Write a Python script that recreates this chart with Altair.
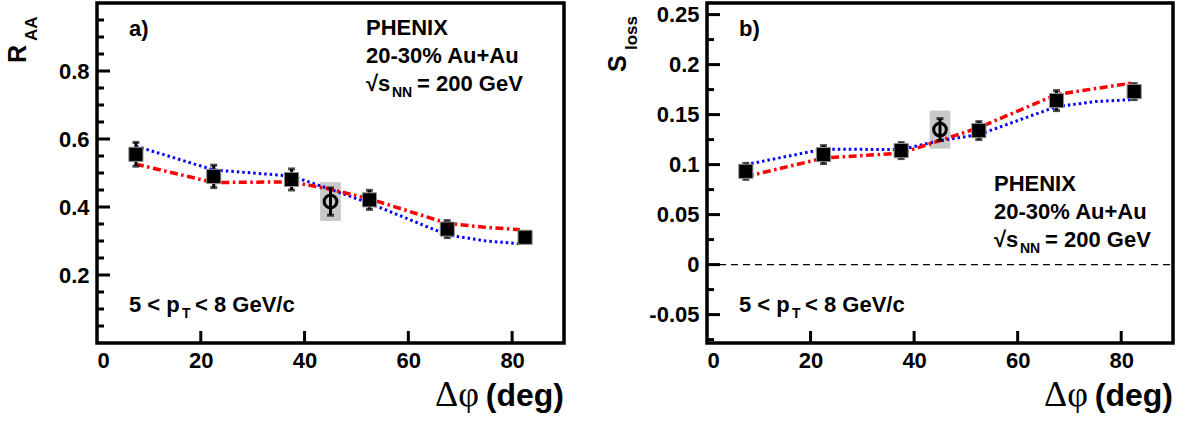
import altair as alt
import pandas as pd

SANS = "Liberation Sans"
SERIF = "Liberation Serif"

# ---------------- data ----------------
deg = [7.5, 22.5, 37.5, 52.5, 67.5, 82.5]
raa = [0.555, 0.490, 0.481, 0.421, 0.335, 0.311]
raa_err = [0.035, 0.033, 0.031, 0.028, 0.025, 0.010]
sloss = [0.0933, 0.110, 0.114, 0.134, 0.164, 0.173]
sloss_err = [0.008, 0.009, 0.008, 0.009, 0.010, 0.008]

phi_deg = [45.0]
phi_halfwidth = 2.0
raa_phi = [0.416]
raa_phi_err = [0.040]
raa_phi_sys = [0.057]
sloss_phi = [0.135]
sloss_phi_err = [0.011]
sloss_phi_sys = [0.019]

model_deg_a = [7.5, 22.5, 37.5, 45.0, 52.5, 67.5, 75.0, 81.5]
raa_blue = [0.579, 0.509, 0.491, 0.452, 0.411, 0.318, 0.300, 0.292]
raa_red = [0.526, 0.472, 0.474, 0.452, 0.424, 0.352, 0.340, 0.333]
model_deg_b = [7.5, 22.5, 37.5, 45.0, 52.5, 67.5, 75.0, 82.0]
sloss_blue = [0.100, 0.1155, 0.115, 0.124, 0.130, 0.158, 0.163, 0.165]
sloss_red = [0.088, 0.1065, 0.1115, 0.124, 0.137, 0.170, 0.176, 0.1815]

x_ticks = [20, 40, 60, 80]
raa_major = [0.2, 0.4, 0.6, 0.8]
raa_minor = [0.05, 0.1, 0.15, 0.25, 0.3, 0.35, 0.45, 0.5, 0.55, 0.65, 0.7, 0.75, 0.85, 0.9, 0.95]
sloss_major = [-0.05, 0, 0.05, 0.1, 0.15, 0.2, 0.25]
sloss_minor = [-0.075, -0.025, 0.025, 0.075, 0.125, 0.175, 0.225]

H = 340
XDOM = [0, 90]


def txt(x, y, s, size, weight="bold", font=SANS, angle=0, align="left"):
    return alt.Chart(pd.DataFrame({"t": [s]})).mark_text(
        align=align, baseline="alphabetic", font=font, fontSize=size,
        fontWeight=weight, angle=angle, color="black"
    ).encode(x=alt.value(x), y=alt.value(y), text="t:N")


def panel(W, vals, errs, pval, perr, psys, mdeg, blue, red, ydom, major, minor,
          label, ttl_main, ttl_sub, ttl_pos, info_pos, zero=False):
    xs = alt.Scale(domain=XDOM, nice=False, zero=False)
    ys = alt.Scale(domain=ydom, nice=False, zero=False)
    xax = alt.Axis(values=[0] + x_ticks, ticks=False, domain=False, grid=False, title=None,
                   labelFont=SANS, labelFontWeight="bold", labelFontSize=22,
                   labelColor="black", labelPadding=7, labelExpr="'' + datum.value")
    yax = alt.Axis(values=major, ticks=False, domain=False, grid=False, title=None,
                   labelFont=SANS, labelFontWeight="bold", labelFontSize=22,
                   labelColor="black", labelPadding=8, labelExpr="'' + datum.value")

    pts = pd.DataFrame({"x": deg, "y": vals,
                        "lo": [v - e for v, e in zip(vals, errs)],
                        "hi": [v + e for v, e in zip(vals, errs)]})
    ph = pd.DataFrame({"x": phi_deg, "y": pval,
                       "x0": [p - phi_halfwidth for p in phi_deg],
                       "x1": [p + phi_halfwidth for p in phi_deg],
                       "lo": [v - e for v, e in zip(pval, perr)],
                       "hi": [v + e for v, e in zip(pval, perr)],
                       "slo": [v - e for v, e in zip(pval, psys)],
                       "shi": [v + e for v, e in zip(pval, psys)]})
    mb = pd.DataFrame({"x": mdeg, "y": blue})
    mr = pd.DataFrame({"x": mdeg, "y": red})

    base_axes = alt.Chart(pts).mark_point(opacity=0).encode(
        x=alt.X("x:Q", scale=xs, axis=xax), y=alt.Y("y:Q", scale=ys, axis=yax))

    box = alt.Chart(ph).mark_rect(color="#c8c8c8").encode(
        x=alt.X("x0:Q", scale=xs), x2="x1:Q", y=alt.Y("slo:Q", scale=ys), y2="shi:Q")

    layers = [base_axes, box]
    if zero:
        layers.append(alt.Chart(pd.DataFrame({"z": [0.0]})).mark_rule(
            color="black", strokeDash=[7, 5], strokeWidth=1.3).encode(
            y=alt.Y("z:Q", scale=ys), x=alt.value(0), x2=alt.value(W)))

    blue_l = alt.Chart(mb).mark_line(color="#0000ff", strokeDash=[2.5, 3], strokeWidth=3,
                                     interpolate="linear").encode(
        x=alt.X("x:Q", scale=xs), y=alt.Y("y:Q", scale=ys))
    red_l = alt.Chart(mr).mark_line(color="#ff0000", strokeDash=[8, 3.5, 2.5, 3.5], strokeWidth=3.5,
                                    interpolate="linear").encode(
        x=alt.X("x:Q", scale=xs), y=alt.Y("y:Q", scale=ys))

    def errbar(df):
        r = alt.Chart(df).mark_rule(color="black", strokeWidth=3).encode(
            x=alt.X("x:Q", scale=xs), y=alt.Y("lo:Q", scale=ys), y2="hi:Q")
        c1 = alt.Chart(df).mark_tick(color="black", orient="horizontal", size=7, thickness=3).encode(
            x=alt.X("x:Q", scale=xs), y=alt.Y("lo:Q", scale=ys))
        c2 = alt.Chart(df).mark_tick(color="black", orient="horizontal", size=7, thickness=3).encode(
            x=alt.X("x:Q", scale=xs), y=alt.Y("hi:Q", scale=ys))
        return [r, c1, c2]

    sq = alt.Chart(pts).mark_point(shape="square", filled=True, fill="black", stroke="#909090",
                                   strokeWidth=1, size=200, opacity=1).encode(
        x=alt.X("x:Q", scale=xs), y=alt.Y("y:Q", scale=ys))
    circ = alt.Chart(ph).mark_point(shape="circle", filled=False, stroke="black", strokeWidth=3,
                                    size=160, opacity=1).encode(
        x=alt.X("x:Q", scale=xs), y=alt.Y("y:Q", scale=ys))

    layers += [blue_l, red_l] + errbar(pts) + [sq] + errbar(ph) + [circ]

    # inward ticks
    tdf_major = pd.DataFrame({"v": major})
    tdf_minor = pd.DataFrame({"v": minor})
    tdf_x = pd.DataFrame({"v": x_ticks})
    layers.append(alt.Chart(tdf_major).mark_rule(color="black", strokeWidth=3).encode(
        y=alt.Y("v:Q", scale=ys), x=alt.value(0), x2=alt.value(13)))
    layers.append(alt.Chart(tdf_minor).mark_rule(color="black", strokeWidth=3).encode(
        y=alt.Y("v:Q", scale=ys), x=alt.value(0), x2=alt.value(7)))
    layers.append(alt.Chart(tdf_x).mark_rule(color="black", strokeWidth=3).encode(
        x=alt.X("v:Q", scale=xs), y=alt.value(H), y2=alt.value(H - 12)))

    # frame
    layers.append(alt.Chart(pd.DataFrame({"f": [1]})).mark_rect(
        fill=None, filled=False, stroke="black", strokeWidth=3.5).encode(
        x=alt.value(0), x2=alt.value(W), y=alt.value(0), y2=alt.value(H)))

    # texts
    tx, ty = ttl_pos
    layers.append(txt(tx, ty, ttl_main, 25, angle=270))
    layers.append(txt(tx + 11, ty - 22, ttl_sub, 17, angle=270))
    layers.append(txt(32, 33, label, 22))
    ix, iy = info_pos
    layers.append(txt(ix, iy, "PHENIX", 22))
    layers.append(txt(ix, iy + 28, "20-30% Au+Au", 22))
    layers.append(txt(ix, iy + 56, "\u221as", 22))
    layers.append(txt(ix + 26, iy + 62, "NN", 14))
    layers.append(txt(ix + 51, iy + 56, "= 200 GeV", 22))
    layers.append(txt(32, 309, "5 < p", 22))
    layers.append(txt(85, 315, "T", 14))
    layers.append(txt(98, 309, "< 8 GeV/c", 22))
    layers.append(txt(W, 403, "(deg)", 32, align="right"))
    layers.append(txt(W - 85, 403, "\u0394\u03c6", 36, weight="normal", font=SERIF, align="right"))

    return alt.layer(*layers).properties(width=W, height=H)


left = panel(467, raa, raa_err, raa_phi, raa_phi_err, raa_phi_sys, model_deg_a, raa_blue, raa_red,
             [0, 1], raa_major, raa_minor, "a)", "R", "AA", (-71, 60), (269, 32))
right = panel(466, sloss, sloss_err, sloss_phi, sloss_phi_err, sloss_phi_sys, model_deg_b, sloss_blue,
              sloss_red, [-0.0784, 0.2616], sloss_major, sloss_minor, "b)", "S", "loss",
              (-81, 69), (287, 188), zero=True)

chart = alt.hconcat(left, right, spacing=40).properties(
    padding={"left": 6, "top": 1, "right": 0, "bottom": 0},
    background="white"
).configure_view(strokeWidth=0)

chart.save("out.html", embed_options={"renderer": "svg", "actions": False})
